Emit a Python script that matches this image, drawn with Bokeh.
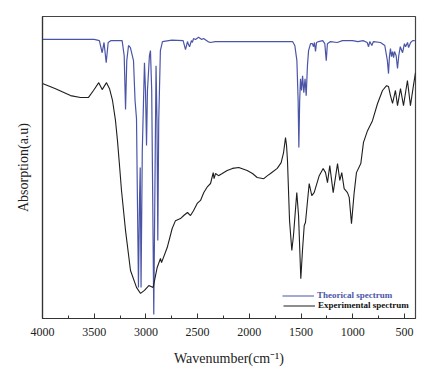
from bokeh.plotting import figure
from bokeh.models import Range1d, SingleIntervalTicker, FixedTicker, Legend, LegendItem
from bokeh.embed import file_html
from bokeh.resources import INLINE

# Theoretical spectrum (wavenumber cm-1, absorption a.u.)
theo_wn = [4000, 3500, 3450, 3423, 3405, 3384, 3365, 3340, 3230, 3210, 3197, 3185, 3168,
           3150, 3120, 3105, 3091, 3082, 3072, 3062, 3055, 3047, 3035, 3014, 3004, 2994,
           2985, 2966, 2956, 2944, 2934, 2924, 2914, 2902, 2893, 2885, 2876, 2860, 2840,
           2750, 2640, 2617, 2598, 2588, 2578, 2560, 2550, 2540, 2520, 2491, 2460, 2443,
           2400, 2375, 2330, 1620, 1582, 1560, 1540, 1528, 1521, 1513, 1505, 1495, 1485,
           1473, 1461, 1450, 1438, 1427, 1408, 1390, 1379, 1370, 1360, 1350, 1330, 1290,
           1270, 1256, 1245, 1215, 1150, 1100, 1000, 950, 900, 860, 847, 835, 815, 800,
           731, 690, 665, 654, 645, 635, 625, 615, 605, 596, 580, 567, 555, 540, 518, 500,
           489, 470, 460, 440, 420, 400]
theo_ab = [92.4, 92.4, 92.0, 88.0, 91.4, 84.7, 91.4, 92.0, 92.0, 87.0, 69.2, 85.4, 90.4,
           89.7, 85.4, 72.2, 66.2, 39.1, 10.3, 39.1, 50.0, 10.3, 55.6, 84.7, 75.5, 57.3,
           75.5, 87.0, 88.7, 75.5, 39.1, 1.3, 39.1, 83.7, 65.5, 25.8, 65.5, 88.7, 91.7,
           92.2, 92.0, 89.0, 91.7, 90.7, 90.0, 92.0, 91.4, 92.7, 92.4, 93.1, 92.4, 92.7,
           91.7, 91.4, 91.7, 91.7, 91.7, 90.4, 85.4, 72.2, 56.6, 72.2, 79.4, 75.5, 80.4,
           74.8, 79.4, 73.8, 83.7, 88.7, 91.0, 91.0, 90.0, 91.4, 88.4, 91.4, 91.7, 92.0,
           91.0, 85.4, 91.0, 91.7, 91.4, 92.0, 92.0, 91.7, 92.0, 91.4, 90.0, 91.7, 90.4, 91.7,
           91.4, 90.4, 85.4, 81.1, 86.7, 89.4, 86.7, 88.4, 86.4, 88.4, 87.0, 82.8, 87.0, 90.0,
           88.0, 91.0, 90.0, 91.4, 89.7, 91.4, 92.0, 92.0]

# Experimental spectrum
exp_wn = [4000, 3874, 3729, 3633, 3555, 3507, 3456, 3423, 3381, 3352, 3323, 3294, 3275,
          3255, 3236, 3197, 3149, 3091, 3052, 3014, 2972, 2930, 2891, 2859, 2849, 2794,
          2746, 2714, 2666, 2634, 2598, 2569, 2540, 2504, 2472, 2440, 2404, 2375, 2349,
          2341, 2327, 2298, 2262, 2214, 2163, 2102, 2021, 1969, 1924, 1860, 1824, 1795,
          1730, 1692, 1669, 1650, 1640, 1631, 1611, 1589, 1573, 1541, 1524, 1502, 1486,
          1469, 1457, 1421, 1396, 1373, 1324, 1286, 1263, 1244, 1222, 1189, 1147, 1125,
          1106, 1083, 1051, 1034, 1012, 986, 964, 922, 896, 857, 809, 760, 712, 673, 654,
          635, 615, 587, 567, 538, 509, 471, 442, 413, 393]
exp_ab = [77.8, 76.1, 73.8, 73.2, 73.2, 75.5, 78.1, 75.8, 78.1, 76.1, 72.2, 65.5, 58.9,
          50.6, 42.4, 29.1, 15.9, 10.3, 8.3, 9.3, 10.9, 10.3, 16.9, 19.9, 18.5, 23.5,
          29.8, 32.4, 33.1, 34.1, 35.1, 34.1, 35.7, 38.1, 39.1, 41.7, 43.7, 44.7, 48.3,
          46.3, 48.0, 47.3, 48.0, 49.0, 49.7, 50.0, 49.0, 48.0, 46.7, 46.3, 47.3, 48.0,
          49.7, 51.6, 54.9, 59.9, 57.3, 52.3, 32.4, 22.5, 27.5, 41.7, 34.1, 13.2, 22.5,
          30.8, 31.8, 44.7, 40.7, 41.7, 47.3, 49.7, 48.3, 45.0, 50.6, 41.7, 51.3, 45.7,
          48.3, 43.0, 41.7, 40.1, 31.4, 41.7, 48.3, 51.3, 58.3, 62.2, 65.5, 71.2, 75.5,
          77.1, 76.8, 73.8, 71.2, 75.5, 70.5, 76.1, 70.5, 78.8, 70.5, 77.1, 81.4]

series_names = ["Theorical spectrum", "Experimental spectrum"]
series_colors = ["#4b55a8", "#1e1e1e"]

SERIF = "Liberation Serif"

p = figure(width=427, height=370, output_backend="svg", toolbar_location=None,
           x_range=Range1d(4000, 393), y_range=Range1d(0, 100),
           min_border_left=42, min_border_right=12, min_border_top=16, min_border_bottom=52)
p.background_fill_color = "white"
p.border_fill_color = "white"
p.grid.visible = False
p.outline_line_color = "#444444"
p.outline_line_width = 1.2

r_theo = p.line(theo_wn, theo_ab, line_color=series_colors[0], line_width=1.2)
r_exp = p.line(exp_wn, exp_ab, line_color=series_colors[1], line_width=1.1)

xa = p.xaxis[0]
xa.ticker = SingleIntervalTicker(interval=500, num_minor_ticks=2)
xa.major_tick_in = 5
xa.major_tick_out = 0
xa.minor_tick_in = 3
xa.minor_tick_out = 0
xa.axis_line_color = "#333333"
xa.axis_line_width = 1.2
xa.major_tick_line_color = "#333333"
xa.minor_tick_line_color = "#333333"
xa.major_label_text_font = SERIF
xa.major_label_text_font_size = "12px"
xa.major_label_text_color = "#222222"
xa.major_label_standoff = 9
xa.axis_label = "Wavenumber(cm\u207b\u00b9)"
xa.axis_label_text_font = SERIF
xa.axis_label_text_font_size = "14px"
xa.axis_label_text_font_style = "normal"
xa.axis_label_text_color = "#222222"
xa.axis_label_standoff = 12

ya = p.yaxis[0]
ya.ticker = FixedTicker(ticks=[])
ya.axis_line_color = "#333333"
ya.axis_line_width = 1.2
ya.axis_label = "Absorption(a.u)"
ya.axis_label_text_font = SERIF
ya.axis_label_text_font_size = "14px"
ya.axis_label_text_font_style = "normal"
ya.axis_label_text_color = "#222222"
ya.axis_label_standoff = 12
ya.major_label_standoff = 0

def make_legend(item_label, renderer, color, loc):
    lg = Legend(items=[LegendItem(label=item_label, renderers=[renderer])],
                location=loc, label_text_font=SERIF, label_text_font_size="9px",
                label_text_font_style="bold", label_text_color=color,
                glyph_width=32, glyph_height=9, label_height=9, label_standoff=3,
                padding=0, margin=0, spacing=0, border_line_color=None,
                background_fill_alpha=0)
    p.add_layout(lg, "center")

make_legend(series_names[0], r_theo, series_colors[0], (240, 18))
make_legend(series_names[1], r_exp, "#111111", (241, 8))

open("out.html", "w").write(file_html(p, INLINE))
